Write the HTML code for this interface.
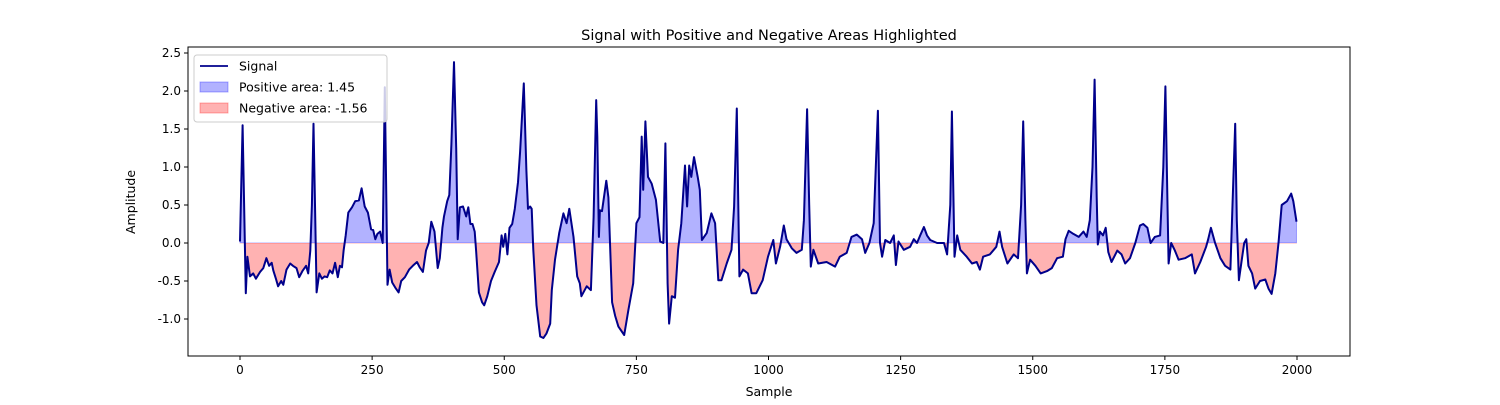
<!DOCTYPE html>
<html><head><meta charset="utf-8"><style>
body{margin:0;background:#fff;font-family:"Liberation Sans","DejaVu Sans",sans-serif}
svg text{font-family:"DejaVu Sans","Liberation Sans",sans-serif}
</style></head><body>
<svg id="chart" width="1500" height="400" xmlns="http://www.w3.org/2000/svg"></svg>
<script>
const samples=[0,5,11,14,19,25,30,38,44,50,55,60,63,68,72,78,82,88,95,100,107,112,118,125,129,133,136,139,142,145,150,155,160,165,170,175,180,185,189,193,196,200,205,212,218,225,230,236,242,248,252,256,260,265,270,274,279,283,288,295,300,305,312,320,327,335,340,346,352,357,362,368,374,378,383,386,392,396,400,405,409,412,416,422,428,432,436,440,444,447,452,458,462,468,475,482,490,495,498,502,506,510,515,520,526,530,537,542,545,549,552,555,561,568,574,580,587,590,596,604,612,618,623,631,638,643,646,656,664,669,674,676,679,681,685,693,697,704,710,716,727,735,744,750,756,760,763,767,772,779,787,795,801,805,809,812,817,823,829,835,842,846,850,854,859,866,870,874,883,892,899,905,911,921,930,935,940,945,952,961,968,977,989,999,1009,1014,1022,1029,1034,1044,1053,1063,1067,1073,1077,1080,1085,1094,1110,1126,1135,1148,1157,1167,1177,1183,1191,1199,1203,1207,1211,1215,1221,1230,1237,1241,1246,1256,1268,1275,1281,1287,1294,1300,1306,1319,1332,1338,1344,1347,1352,1357,1363,1375,1385,1394,1400,1406,1419,1431,1437,1442,1452,1464,1472,1478,1482,1486,1489,1495,1505,1515,1527,1536,1546,1557,1562,1568,1577,1587,1596,1602,1608,1613,1617,1621,1623,1627,1633,1638,1643,1649,1660,1668,1675,1684,1694,1703,1709,1717,1723,1731,1741,1747,1751,1755,1757,1762,1769,1776,1788,1801,1807,1817,1828,1832,1837,1845,1855,1864,1874,1878,1883,1886,1890,1896,1900,1904,1908,1915,1921,1930,1940,1946,1952,1959,1965,1971,1981,1989,1993,1999];
const values=[0.02,1.55,-0.66,-0.18,-0.44,-0.40,-0.47,-0.38,-0.33,-0.20,-0.30,-0.26,-0.36,-0.47,-0.57,-0.50,-0.55,-0.35,-0.27,-0.30,-0.33,-0.45,-0.37,-0.30,-0.40,-0.10,0.5,1.57,0.5,-0.65,-0.40,-0.47,-0.44,-0.45,-0.36,-0.40,-0.26,-0.45,-0.30,-0.32,-0.10,0.1,0.4,0.47,0.55,0.56,0.72,0.48,0.40,0.18,0.17,0.05,0.12,0.15,0.0,2.05,-0.55,-0.35,-0.52,-0.60,-0.65,-0.50,-0.45,-0.35,-0.30,-0.25,-0.32,-0.38,-0.10,0.0,0.28,0.15,-0.33,-0.20,0.20,0.35,0.55,0.63,1.30,2.38,1.25,0.05,0.47,0.48,0.35,0.47,0.25,0.25,0.15,-0.12,-0.65,-0.78,-0.82,-0.70,-0.50,-0.38,-0.25,0.10,-0.05,0.12,-0.15,0.20,0.25,0.45,0.80,1.20,2.1,0.95,0.45,0.48,0.45,-0.09,-0.82,-1.23,-1.25,-1.19,-1.06,-0.62,-0.22,0.13,0.39,0.26,0.45,0.08,-0.44,-0.53,-0.70,-0.57,-0.62,0.34,1.88,1.4,0.08,0.43,0.42,0.82,0.6,-0.78,-0.96,-1.1,-1.21,-0.88,-0.53,0.26,0.34,1.4,0.7,1.6,0.87,0.78,0.57,0.02,0.0,1.31,-0.53,-1.06,-0.70,-0.72,-0.09,0.26,1.02,0.48,1.02,0.87,1.13,0.87,0.70,0.04,0.13,0.39,0.26,-0.49,-0.49,-0.27,-0.09,0.48,1.77,-0.44,-0.35,-0.4,-0.66,-0.66,-0.49,-0.18,0.04,-0.27,-0.05,0.23,0.05,-0.07,-0.13,-0.09,0.3,1.76,0.5,-0.31,-0.09,-0.27,-0.25,-0.31,-0.18,-0.13,0.08,0.11,0.05,-0.13,0,0.26,1.0,1.74,0,-0.18,0.04,0,0.1,-0.29,0.02,-0.09,-0.05,0.05,0.0,0.1,0.21,0.1,0.04,0.0,0.0,-0.15,0.5,1.73,-0.18,0.1,-0.09,-0.18,-0.27,-0.25,-0.35,-0.18,-0.15,-0.05,0.15,-0.05,-0.27,-0.15,-0.2,0.5,1.6,0.3,-0.4,-0.22,-0.3,-0.4,-0.37,-0.33,-0.2,-0.18,0.05,0.16,0.12,0.08,0.15,0.08,0.3,1.0,2.15,0.6,-0.02,0.15,0.1,0.2,-0.12,-0.25,-0.1,-0.15,-0.27,-0.2,0.0,0.23,0.25,0.2,0.0,0.08,0.1,1.0,2.06,0.5,-0.27,0.0,-0.1,-0.22,-0.2,-0.15,-0.4,-0.25,-0.05,0.05,0.2,0.0,-0.2,-0.3,-0.35,0.5,1.57,0.3,-0.49,-0.2,0.0,0.05,-0.3,-0.4,-0.6,-0.5,-0.48,-0.6,-0.67,-0.4,0.0,0.5,0.55,0.65,0.55,0.28];
const xTicks=[0,250,500,750,1000,1250,1500,1750,2000];
const yTicks=[-1.0,-0.5,0.0,0.5,1.0,1.5,2.0,2.5];
const legendLabels=["Signal","Positive area: 1.45","Negative area: -1.56"];

const NS="http://www.w3.org/2000/svg";
const svg=document.getElementById('chart');
const L=188,R=1350,T=47,B=356;
const xs=s=>240+s*(1297-240)/2000;
const ys=v=>243-v*76;
function mk(tag,attrs,parent){const e=document.createElementNS(NS,tag);for(const k in attrs)e.setAttribute(k,attrs[k]);(parent||svg).appendChild(e);return e;}

const defs=mk('defs',{});
const cp1=mk('clipPath',{id:'above'},defs);mk('rect',{x:L,y:T,width:R-L,height:ys(0)-T},cp1);
const cp2=mk('clipPath',{id:'below'},defs);mk('rect',{x:L,y:ys(0),width:R-L,height:B-ys(0)},cp2);

let pts=samples.map((s,i)=>xs(s).toFixed(1)+','+ys(values[i]).toFixed(1)).join(' ');
const areaD='M'+xs(samples[0])+','+ys(0)+' L'+pts+' L'+xs(samples[samples.length-1])+','+ys(0)+' Z';
const pos=mk('path',{d:areaD,fill:'rgba(0,0,255,0.3)',stroke:'rgba(0,0,255,0.3)','clip-path':'url(#above)'});


const neg=mk('path',{d:areaD,fill:'rgba(255,0,0,0.3)',stroke:'rgba(255,0,0,0.3)','clip-path':'url(#below)'});


const line=mk('polyline',{points:pts,fill:'none',stroke:'#00008b','stroke-width':2,'stroke-linejoin':'round'});



const frame=mk('rect',{x:L,y:T,width:R-L,height:B-T,fill:'none',stroke:'#000','stroke-width':1});



xTicks.forEach(t=>{
  mk('line',{x1:xs(t),x2:xs(t),y1:B,y2:B+4,stroke:'#000'});
  const tx=mk('text',{x:xs(t),y:B+18,'text-anchor':'middle','font-size':12,fill:'#000'});
  tx.textContent=t;
  
  
});
yTicks.forEach(t=>{
  mk('line',{x1:L-4,x2:L,y1:ys(t),y2:ys(t),stroke:'#000'});
  const tx=mk('text',{x:L-7,y:ys(t)+4,'text-anchor':'end','font-size':12,fill:'#000'});
  tx.textContent=t.toFixed(1);
  
  
});

const title=mk('text',{x:769,y:40,'text-anchor':'middle','font-size':14.5});
title.textContent='Signal with Positive and Negative Areas Highlighted';


const xl=mk('text',{x:769,y:396,'text-anchor':'middle','font-size':12.5});
xl.textContent='Sample';


const yl=mk('text',{x:135,y:202,'text-anchor':'middle','font-size':12.5,transform:'rotate(-90 135 202)'});
yl.textContent='Amplitude';



const lg=mk('g',{});


mk('rect',{x:194,y:55,width:193,height:67,rx:3,fill:'rgba(255,255,255,0.8)',stroke:'#ccc'},lg);
legendLabels.forEach((lab,i)=>{
  const y=66+i*21;
  if(i===0) mk('line',{x1:200,x2:228,y1:y,y2:y,stroke:'#00008b','stroke-width':1.8},lg);
  else mk('rect',{x:200,y:y-5,width:28,height:10,fill:i===1?'rgba(0,0,255,0.3)':'rgba(255,0,0,0.3)',stroke:i===1?'rgba(0,0,255,0.3)':'rgba(255,0,0,0.3)'},lg);
  const t=mk('text',{x:239,y:y+4.5,'font-size':12.5},lg);
  t.textContent=lab;
  
  
});
</script>
</body></html>
